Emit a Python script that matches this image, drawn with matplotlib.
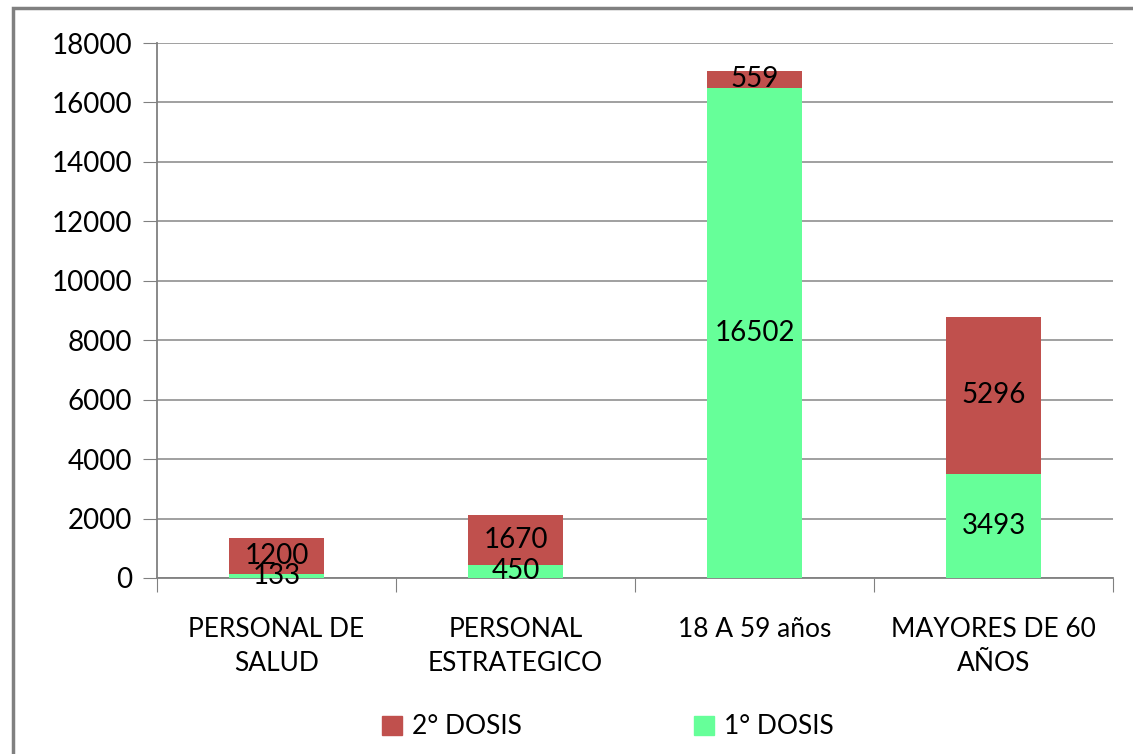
import matplotlib.pyplot as plt
from matplotlib.patches import Rectangle, Patch

categories = ["PERSONAL DE\nSALUD", "PERSONAL\nESTRATEGICO", "18 A 59 años", "MAYORES DE 60\nAÑOS"]
dosis1 = [133, 450, 16502, 3493]
dosis2 = [1200, 1670, 559, 5296]

green = "#66FF99"
red = "#C0504D"

plt.rcParams["font.family"] = ["Lato", "DejaVu Sans"]

fig = plt.figure(figsize=(11.33, 7.54), dpi=100)
ax = fig.add_axes([157 / 1133, 1 - 578 / 754, (1113 - 157) / 1133, (578 - 43) / 754])

x = range(len(categories))
b1 = ax.bar(x, dosis1, width=0.4, color=green, zorder=3)
b2 = ax.bar(x, dosis2, width=0.4, bottom=dosis1, color=red, zorder=3)
ax.bar_label(b1, label_type="center", fontsize=20, color="black")
ax.bar_label(b2, label_type="center", fontsize=20, color="black")

ax.set_xlim(-0.5, len(categories) - 0.5)
ax.set_ylim(0, 18000)
ax.set_yticks(range(0, 18001, 2000))
ax.tick_params(axis="y", labelsize=20, length=10, color="#808080", pad=8)
ax.yaxis.grid(True, color="#999999", linewidth=1.3, zorder=0)

# boundary ticks between categories, labels centred on bars
ax.set_xticks([i - 0.5 for i in range(len(categories) + 1)], minor=False)
ax.set_xticklabels([])
ax.set_xticks(list(x), minor=True)
ax.set_xticklabels(categories, minor=True, fontsize=19, linespacing=1.45)
ax.tick_params(axis="x", which="major", length=10, color="#808080")
ax.tick_params(axis="x", which="minor", length=0, pad=28)

for s in ["top", "right"]:
    ax.spines[s].set_visible(False)
for s in ["left", "bottom"]:
    ax.spines[s].set_color("#808080")
    ax.spines[s].set_linewidth(1.3)

handles = [Patch(color=red, label="2° DOSIS"), Patch(color=green, label="1° DOSIS")]
fig.legend(handles=handles, loc="center", bbox_to_anchor=(608 / 1133, 1 - 727 / 754),
           ncol=2, frameon=False, fontsize=19, columnspacing=6.5,
           handlelength=0.75, handleheight=0.75, handletextpad=0.4)

fig.patches.append(Rectangle((13 / 1133, -0.05), 1.2, 1 - 8 / 754 + 0.05,
                             transform=fig.transFigure, fill=False,
                             edgecolor="#808080", linewidth=2.5))

fig.savefig("out.png", dpi=100)
